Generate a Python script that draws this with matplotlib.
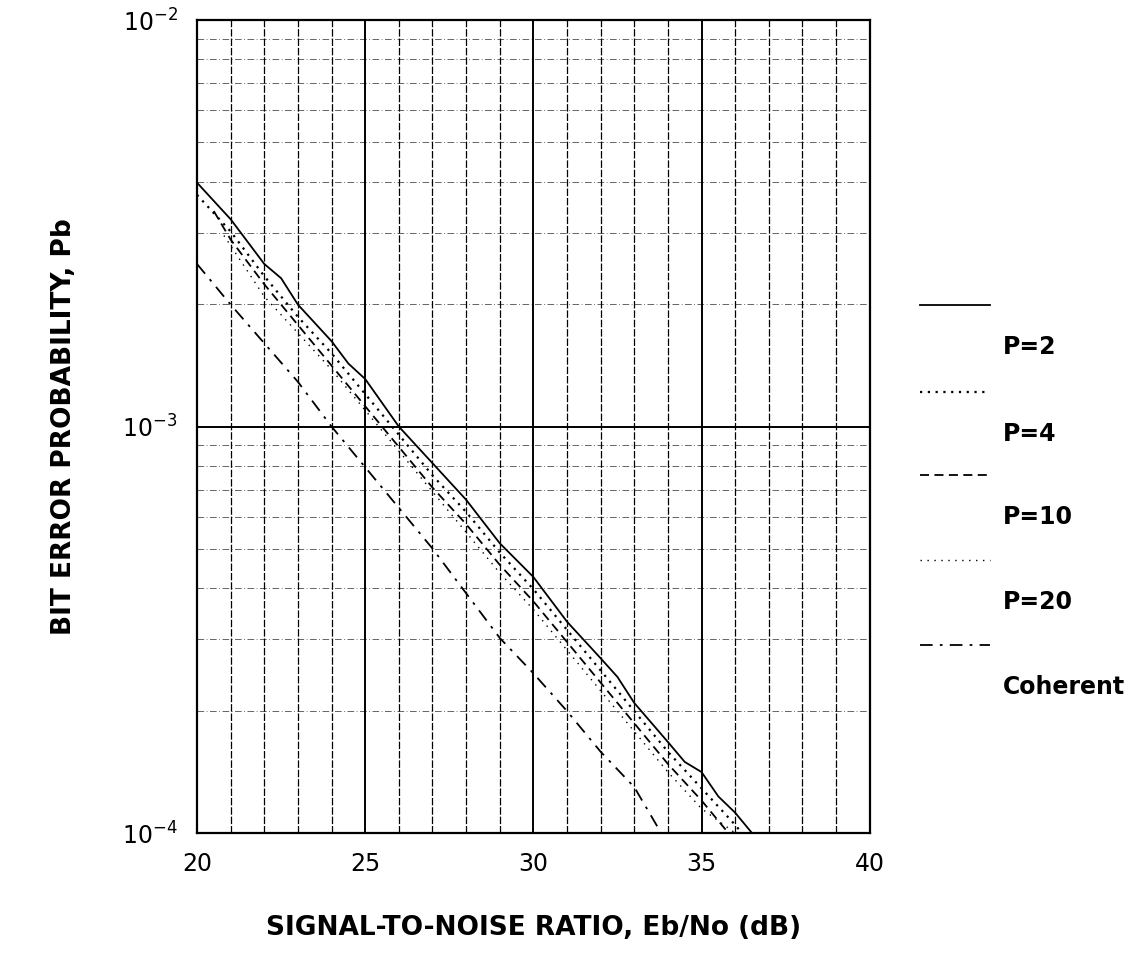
import numpy as np
import matplotlib
matplotlib.use('Agg')
import matplotlib.pyplot as plt
from matplotlib.lines import Line2D
from matplotlib.ticker import FixedLocator, NullFormatter

# Datos (log10 de Pb)
snr_p2 = [20, 21, 22, 22.5, 23, 24, 24.5, 25, 26, 27, 28, 29, 30, 31, 32, 32.5, 33, 34, 34.5, 35, 35.5, 36, 36.5]
log_p2 = [-2.40, -2.49, -2.60, -2.635, -2.70, -2.79, -2.845, -2.883, -3.0, -3.09, -3.18, -3.287, -3.37, -3.48,
          -3.57, -3.616, -3.68, -3.776, -3.825, -3.85, -3.91, -3.95, -4.0]

snr_p4 = [20, 21, 22, 23, 24, 25, 26, 27, 28, 29, 30, 31, 32, 33, 34, 35, 36, 36.2]
log_p4 = [-2.43, -2.52, -2.63, -2.73, -2.82, -2.92, -3.02, -3.12, -3.21, -3.31, -3.40, -3.50, -3.60, -3.70,
          -3.80, -3.89, -3.98, -4.0]

snr_p10 = [20.5, 21, 22, 23, 24, 25, 26, 27, 28, 29, 30, 31, 32, 33, 34, 35, 35.8]
log_p10 = [-2.47, -2.54, -2.65, -2.75, -2.85, -2.95, -3.05, -3.15, -3.24, -3.34, -3.43, -3.53, -3.63, -3.73,
           -3.83, -3.92, -4.0]

snr_p20 = [20.8, 22, 23, 24, 25, 26, 27, 28, 29, 30, 31, 32, 33, 34, 35, 36]
log_p20 = [-2.53, -2.68, -2.77, -2.86, -2.96, -3.06, -3.16, -3.26, -3.36, -3.45, -3.55, -3.65, -3.75, -3.85,
           -3.94, -4.0]

snr_coh = [20, 21, 22, 23, 24, 25, 26, 27, 28, 29, 30, 31, 32, 33, 33.8]
log_coh = [-2.60, -2.70, -2.795, -2.89, -3.0, -3.10, -3.20, -3.30, -3.41, -3.52, -3.607, -3.70, -3.80, -3.887, -4.0]

etiquetas = ['P=2', 'P=4', 'P=10', 'P=20', 'Coherent']

fig = plt.figure(figsize=(11.48, 9.55), dpi=100)
ax = fig.add_axes([0.1716, 0.1277, 0.586, 0.8513])

estilos = [
    dict(ls='-', lw=1.3),
    dict(ls=(0, (1, 2.5)), lw=1.6),
    dict(ls=(0, (5, 3)), lw=1.3),
    dict(ls=(0, (1, 4)), lw=1.0),
    dict(ls=(0, (7, 4, 1.5, 4)), lw=1.3),
]
series = [(snr_p2, log_p2), (snr_p4, log_p4), (snr_p10, log_p10), (snr_p20, log_p20), (snr_coh, log_coh)]

for (x, y), st in zip(series, estilos):
    ax.plot(x, 10 ** np.array(y), color='black', **st)

ax.set_yscale('log')
ax.set_xlim(20, 40)
ax.set_ylim(1e-4, 1e-2)

ax.set_xticks([20, 25, 30, 35, 40])
ax.xaxis.set_minor_locator(FixedLocator(np.arange(20, 41, 1)))
ax.tick_params(axis='both', which='both', length=0, labelsize=17, pad=14)
ax.yaxis.set_minor_formatter(NullFormatter())

# Rejilla
for xv in range(21, 40):
    if xv % 5 == 0:
        ax.axvline(xv, color='black', lw=1.4, zorder=0)
    else:
        ax.axvline(xv, color='black', lw=0.9, ls=(0, (6, 1.5)), zorder=0)
ax.axhline(1e-3, color='black', lw=1.4, zorder=0)
for dec in [1e-4, 1e-3]:
    for m in range(2, 10):
        ax.axhline(m * dec, color='black', lw=0.6, ls=(0, (8, 3, 1, 3)), alpha=0.7, zorder=0)

for sp in ax.spines.values():
    sp.set_linewidth(1.6)

ax.set_xlabel('SIGNAL-TO-NOISE RATIO, Eb/No (dB)', fontsize=19, fontweight='bold', labelpad=28)
ax.set_ylabel('BIT ERROR PROBABILITY, Pb', fontsize=19, fontweight='bold', labelpad=32)

# Leyenda a la derecha
y_lineas = [305, 392, 475, 560, 645]
for i, (lab, st) in enumerate(zip(etiquetas, estilos)):
    yl = 1 - y_lineas[i] / 955
    fig.add_artist(Line2D([920 / 1148, 990 / 1148], [yl, yl], color='black', **st))
    fig.text(1003 / 1148, 1 - (y_lineas[i] + 42) / 955, lab, fontsize=17, fontweight='bold',
             va='center', ha='left')

plt.savefig('out.png', dpi=100)
